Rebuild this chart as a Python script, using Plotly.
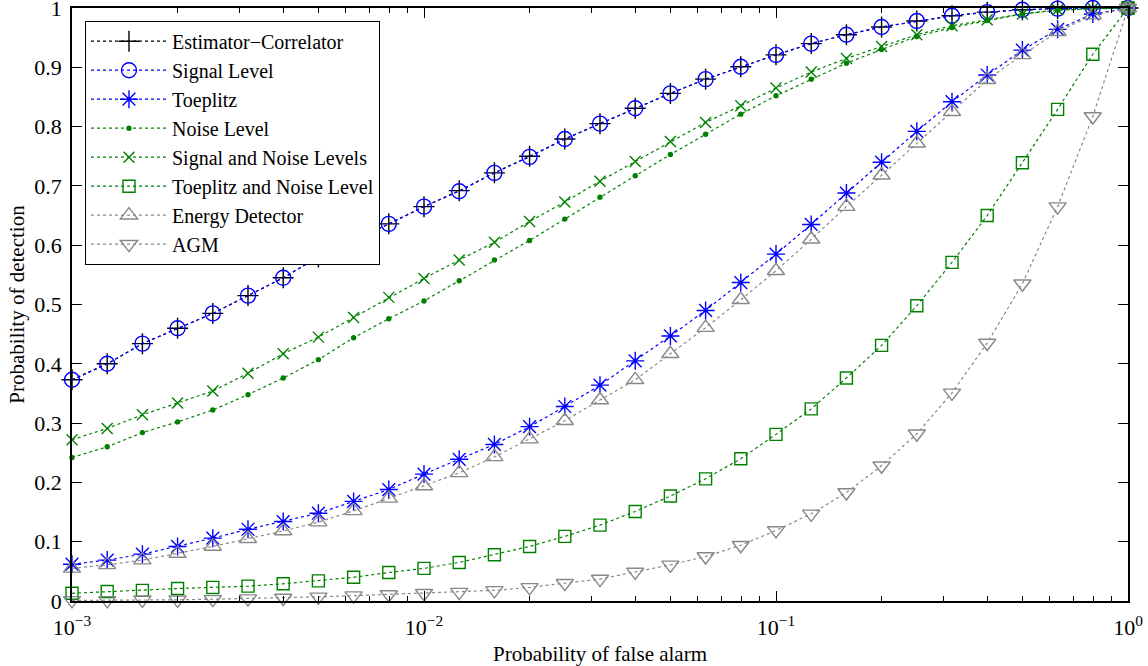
import plotly.graph_objects as go

# Probability of false alarm (log grid, 0.1 decade steps)
pfa = [0.001, 0.001259, 0.001585, 0.001995, 0.002512, 0.003162, 0.003981, 0.005012,
       0.00631, 0.007943, 0.01, 0.01259, 0.01585, 0.01995, 0.02512, 0.03162,
       0.03981, 0.05012, 0.0631, 0.07943, 0.1, 0.1259, 0.1585, 0.1995, 0.2512,
       0.3162, 0.3981, 0.5012, 0.631, 0.7943, 1.0]

estimator_correlator = [0.373, 0.400, 0.434, 0.460, 0.485, 0.515, 0.545, 0.580, 0.607, 0.636,
                        0.665, 0.692, 0.722, 0.750, 0.779, 0.805, 0.831, 0.856, 0.880, 0.901,
                        0.921, 0.940, 0.955, 0.968, 0.978, 0.987, 0.993, 0.997, 0.999, 1.0, 1.0]
signal_level = [0.373, 0.400, 0.434, 0.460, 0.485, 0.515, 0.545, 0.580, 0.607, 0.636,
                0.665, 0.691, 0.722, 0.749, 0.779, 0.805, 0.831, 0.856, 0.880, 0.901,
                0.921, 0.940, 0.955, 0.968, 0.978, 0.987, 0.993, 0.997, 0.999, 1.0, 1.0]
toeplitz = [0.062, 0.069, 0.079, 0.092, 0.106, 0.121, 0.134, 0.148, 0.168, 0.188,
            0.214, 0.239, 0.264, 0.294, 0.328, 0.364, 0.405, 0.447, 0.490, 0.537,
            0.585, 0.635, 0.688, 0.740, 0.792, 0.842, 0.887, 0.929, 0.964, 0.990, 1.0]
noise_level = [0.242, 0.260, 0.284, 0.302, 0.322, 0.348, 0.376, 0.407, 0.444, 0.476,
               0.506, 0.540, 0.575, 0.608, 0.644, 0.681, 0.717, 0.753, 0.787, 0.821,
               0.852, 0.880, 0.907, 0.930, 0.952, 0.967, 0.979, 0.990, 0.996, 0.999, 1.0]
signal_noise = [0.272, 0.291, 0.314, 0.334, 0.354, 0.384, 0.417, 0.445, 0.478, 0.512,
                0.544, 0.575, 0.605, 0.640, 0.673, 0.708, 0.741, 0.775, 0.807, 0.835,
                0.865, 0.892, 0.915, 0.935, 0.955, 0.970, 0.980, 0.990, 0.997, 0.999, 1.0]
toeplitz_noise = [0.013, 0.016, 0.018, 0.021, 0.023, 0.025, 0.029, 0.034, 0.040, 0.048,
                  0.055, 0.065, 0.078, 0.092, 0.109, 0.128, 0.151, 0.177, 0.206, 0.240,
                  0.281, 0.324, 0.376, 0.431, 0.498, 0.571, 0.650, 0.739, 0.829, 0.922, 1.0]
energy_detector = [0.055, 0.061, 0.069, 0.080, 0.092, 0.105, 0.118, 0.133, 0.152, 0.173,
                   0.194, 0.216, 0.243, 0.273, 0.304, 0.339, 0.373, 0.417, 0.461, 0.508,
                   0.557, 0.610, 0.665, 0.718, 0.772, 0.825, 0.879, 0.921, 0.960, 0.988, 1.0]
agm = [0.001, 0.001, 0.002, 0.002, 0.003, 0.004, 0.005, 0.007, 0.009, 0.011,
       0.013, 0.015, 0.018, 0.023, 0.030, 0.037, 0.049, 0.061, 0.075, 0.094,
       0.119, 0.147, 0.183, 0.228, 0.282, 0.351, 0.435, 0.535, 0.665, 0.817, 1.0]

names = ["Estimator\u2212Correlator", "Signal Level", "Toeplitz", "Noise Level",
         "Signal and Noise Levels", "Toeplitz and Noise Level", "Energy Detector", "AGM"]

x_tickvals = [0.001, 0.01, 0.1, 1]
x_ticktext = ["10<sup>\u22123</sup>", "10<sup>\u22122</sup>", "10<sup>\u22121</sup>", "10<sup>0</sup>"]
x_minor_tickvals = [0.002, 0.003, 0.004, 0.005, 0.006, 0.007, 0.008, 0.009,
                    0.02, 0.03, 0.04, 0.05, 0.06, 0.07, 0.08, 0.09,
                    0.2, 0.3, 0.4, 0.5, 0.6, 0.7, 0.8, 0.9]
y_tickvals = [0, 0.1, 0.2, 0.3, 0.4, 0.5, 0.6, 0.7, 0.8, 0.9, 1.0]
y_ticktext = ["0", "0.1", "0.2", "0.3", "0.4", "0.5", "0.6", "0.7", "0.8", "0.9", "1"]

BLUE = "rgb(0,0,255)"
GREEN = "rgb(0,128,0)"
GRAY = "rgb(136,136,136)"
BLACK = "rgb(0,0,0)"
FONT = "Liberation Serif"

series = [
    (estimator_correlator, BLACK, "cross-thin-open", 15),
    (signal_level, BLUE, "circle-open", 15),
    (toeplitz, BLUE, "asterisk-open", 15),
    (noise_level, GREEN, "circle", 4),
    (signal_noise, GREEN, "x-thin-open", 11),
    (toeplitz_noise, GREEN, "square-open", 12),
    (energy_detector, GRAY, "triangle-up-open", 15),
    (agm, GRAY, "triangle-down-open", 15),
]

fig = go.Figure()
for (vals, col, sym, sz), nm in zip(series, names):
    fig.add_trace(go.Scatter(
        x=pfa, y=vals, name=nm, mode="lines+markers",
        line=dict(color=col, width=1.2, dash="3px,3px"),
        marker=dict(symbol=sym, size=sz, color=col, line=dict(color=col, width=1.4)),
        cliponaxis=False,
    ))

fig.update_layout(
    width=1148, height=666,
    margin=dict(l=72, r=20, t=8, b=65, autoexpand=False),
    paper_bgcolor="white", plot_bgcolor="white",
    font=dict(family=FONT, size=21, color="black"),
    showlegend=True,
    legend=dict(
        x=0.0123, y=0.9786, xanchor="left", yanchor="top",
        bgcolor="white", bordercolor="black", borderwidth=1,
        font=dict(family=FONT, size=20), itemwidth=76,
        tracegroupgap=0,
    ),
    xaxis=dict(
        type="log", range=[-3, 0], automargin=False,
        tickmode="array", tickvals=x_tickvals, ticktext=x_ticktext,
        ticks="inside", ticklen=10, tickcolor="black", tickwidth=1,
        showline=True, linecolor="black", linewidth=1.5, mirror="allticks",
        showgrid=False, zeroline=False, ticklabelstandoff=6,
        ticklabeloverflow="allow",
        minor=dict(tickmode="array", tickvals=x_minor_tickvals, ticks="inside",
                   ticklen=5, tickcolor="black", tickwidth=1, showgrid=False),
        title=dict(text="Probability of false alarm", standoff=8, font=dict(size=21)),
        tickfont=dict(size=22),
    ),
    yaxis=dict(
        range=[0, 1], automargin=False,
        tickmode="array", tickvals=y_tickvals, ticktext=y_ticktext,
        ticks="inside", ticklen=10, tickcolor="black", tickwidth=1,
        showline=True, linecolor="black", linewidth=1.5, mirror="allticks",
        showgrid=False, zeroline=False, ticklabelstandoff=4,
        ticklabeloverflow="allow",
        title=dict(text="Probability of detection", standoff=4, font=dict(size=21)),
        tickfont=dict(size=22),
    ),
)

fig.write_html("out.html")
